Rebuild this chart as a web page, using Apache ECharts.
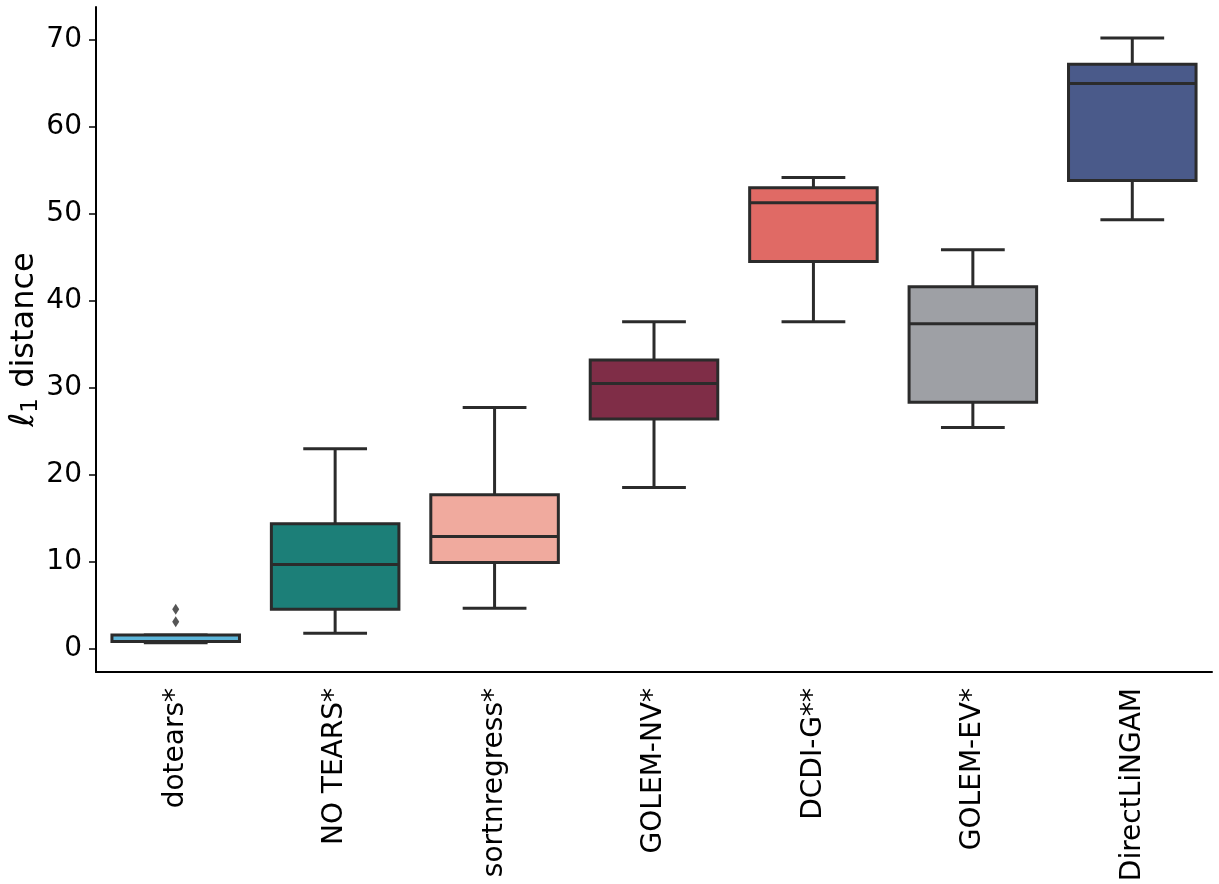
<!DOCTYPE html>
<html>
<head>
<meta charset="utf-8">
<script src="https://cdn.jsdelivr.net/npm/echarts@6/dist/echarts.min.js"></script>
<style>
  html, body { margin: 0; padding: 0; background: #fff; }
  #chart { width: 1219px; height: 884px; }
</style>
</head>
<body>
<div id="chart"></div>
<script>
// methods along the x axis
const methods = ['dotears*', 'NO TEARS*', 'sortnregress*', 'GOLEM-NV*', 'DCDI-G**', 'GOLEM-EV*', 'DirectLiNGAM'];
// box stats: [low whisker, Q1, median, Q3, high whisker]
const lowWhisker  = [0.72, 1.80, 4.67, 18.55, 37.60, 25.44, 49.30];
const q1          = [0.85, 4.56, 9.95, 26.43, 44.52, 28.34, 53.82];
const median      = [0.85, 9.72, 12.93, 30.49, 51.26, 37.37, 64.95];
const q3          = [1.60, 14.38, 17.71, 33.20, 52.98, 41.62, 67.17];
const highWhisker = [1.60, 23.00, 27.73, 37.60, 54.17, 45.87, 70.20];
// fliers (only dotears has them)
const outlierMethod = [0, 0];
const outlierValue  = [4.56, 3.13];
const yTicks = [0, 10, 20, 30, 40, 50, 60, 70];

const boxColors = ['#5cb5d9', '#1c7f78', '#f0aa9e', '#7f2d47', '#e06a65', '#9ea0a5', '#4a5a8a'];
const edge = '#2b2b2b';
const font = 'DejaVu Sans';

const boxData = methods.map((m, i) => [i, lowWhisker[i], q1[i], median[i], q3[i], highWhisker[i]]);
const outliers = outlierMethod.map((m, i) => [m, outlierValue[i]]);

function renderBox(params, api) {
  const i = api.value(0);
  const band = api.size([1, 0])[0];
  const w = band * 0.8;
  const cap = w / 2;
  const lo = api.coord([i, api.value(1)]);
  const b1 = api.coord([i, api.value(2)]);
  const md = api.coord([i, api.value(3)]);
  const b3 = api.coord([i, api.value(4)]);
  const hi = api.coord([i, api.value(5)]);
  const x = lo[0];
  const ls = { stroke: edge, lineWidth: 3 };
  return {
    type: 'group',
    children: [
      { type: 'line', shape: { x1: x, y1: b1[1], x2: x, y2: lo[1] }, style: ls },
      { type: 'line', shape: { x1: x, y1: b3[1], x2: x, y2: hi[1] }, style: ls },
      { type: 'line', shape: { x1: x - cap / 2, y1: lo[1], x2: x + cap / 2, y2: lo[1] }, style: ls },
      { type: 'line', shape: { x1: x - cap / 2, y1: hi[1], x2: x + cap / 2, y2: hi[1] }, style: ls },
      { type: 'rect', shape: { x: x - w / 2, y: b3[1], width: w, height: b1[1] - b3[1] },
        style: { fill: boxColors[i], stroke: edge, lineWidth: 3 } },
      { type: 'line', shape: { x1: x - w / 2, y1: md[1], x2: x + w / 2, y2: md[1] }, style: ls }
    ]
  };
}

const chart = echarts.init(document.getElementById('chart'));
chart.setOption({
  animation: false,
  backgroundColor: '#fff',
  grid: { left: 96, right: 7, top: 7, bottom: 212, containLabel: false, outerBoundsMode: 'none' },
  xAxis: {
    type: 'category',
    data: methods,
    boundaryGap: true,
    axisLine: { onZero: false, lineStyle: { color: '#000', width: 2 } },
    axisTick: { alignWithLabel: true, length: 7, lineStyle: { color: '#000', width: 1.5 } },
    axisLabel: { rotate: 90, margin: 16, color: '#000', fontSize: 28, fontFamily: font, interval: 0 },
    splitLine: { show: false }
  },
  yAxis: {
    type: 'value',
    min: -2.64,
    max: 73.75,
    name: '{l|ℓ}{s|1}{t| distance}',
    nameLocation: 'middle',
    nameRotate: 90,
    nameGap: 53,
    nameMoveOverlap: false,
    nameTextStyle: {
      rich: {
        l: { fontSize: 34, fontFamily: font, fontStyle: 'italic', color: '#000' },
        s: { fontSize: 23, fontFamily: font, color: '#000', padding: [14, 0, 0, 0] },
        t: { fontSize: 32, fontFamily: font, color: '#000' }
      }
    },
    axisLine: { show: true, lineStyle: { color: '#000', width: 2 } },
    axisTick: { show: true, length: 7, customValues: yTicks, lineStyle: { color: '#000', width: 1.5 } },
    axisLabel: { customValues: yTicks, margin: 14, color: '#000', fontSize: 28, fontFamily: font },
    splitLine: { show: false }
  },
  series: [
    {
      type: 'custom',
      renderItem: renderBox,
      data: boxData,
      encode: { x: 0, y: [1, 2, 3, 4, 5] },
      z: 2
    },
    {
      type: 'scatter',
      data: outliers,
      symbol: 'diamond',
      symbolSize: [7, 11],
      itemStyle: { color: edge },
      z: 3
    }
  ]
});
</script>
</body>
</html>
